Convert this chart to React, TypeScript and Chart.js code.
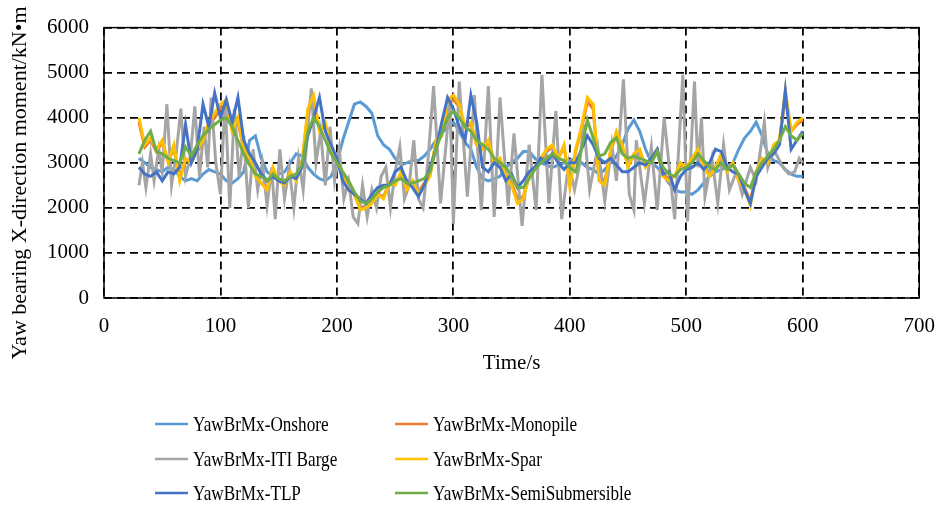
import React, { useEffect, useRef } from "react";
import { Chart, registerables } from "chart.js";
Chart.register(...registerables);

const seriesNames = [
  "YawBrMx-Onshore",
  "YawBrMx-Monopile",
  "YawBrMx-ITI Barge",
  "YawBrMx-Spar",
  "YawBrMx-TLP",
  "YawBrMx-SemiSubmersible",
];
const seriesColors = ["#5B9BD5", "#ED7D31", "#A5A5A5", "#FFC000", "#4472C4", "#70AD47"];

const xTicks = [0, 100, 200, 300, 400, 500, 600, 700];
const yTicks = [0, 1000, 2000, 3000, 4000, 5000, 6000];

// time (s), sampled every 5 s
const time5 = [
  30, 35, 40, 45, 50, 55, 60, 65, 70, 75, 80, 85, 90, 95, 100, 105, 110, 115, 120, 125,
  130, 135, 140, 145, 150, 155, 160, 165, 170, 175, 180, 185, 190, 195, 200, 205, 210, 215, 220, 225,
  230, 235, 240, 245, 250, 255, 260, 265, 270, 275, 280, 285, 290, 295, 300, 305, 310, 315, 320, 325,
  330, 335, 340, 345, 350, 355, 360, 365, 370, 375, 380, 385, 390, 395, 400, 405, 410, 415, 420, 425,
  430, 435, 440, 445, 450, 455, 460, 465, 470, 475, 480, 485, 490, 495, 500, 505, 510, 515, 520, 525,
  530, 535, 540, 545, 550, 555, 560, 565, 570, 575, 580, 585, 590, 595, 600,
];

const onshore = [
  3100, 3000, 2900, 2850, 2800, 2900, 2850, 2700, 2600, 2650, 2600, 2750, 2850, 2800, 2750, 2600, 2550, 2650, 2800, 3500,
  3600, 3100, 2800, 2700, 2750, 2800, 3000, 3200, 3150, 2900, 2750, 2650, 2600, 2700, 3000, 3500, 3900, 4300, 4350, 4250,
  4100, 3600, 3400, 3300, 3100, 2950, 3000, 3050, 3050, 3150, 3300, 3500, 3650, 3800, 3900, 3700, 3450, 3300, 2900, 2650,
  2600, 2650, 2700, 2900, 3000, 3100, 3250, 3250, 3100, 3000, 2950, 2900, 2950, 3000, 3050, 3100, 3000, 2900, 2850, 2750,
  2850, 3000, 3150, 3400, 3750, 3950, 3700, 3300, 3000, 2900, 2750, 2550, 2400, 2350, 2350, 2300, 2400, 2550, 2700, 2800,
  2850, 2900, 3000, 3300, 3550, 3700, 3900, 3600, 3200, 3050, 3000, 2850, 2750, 2700, 2700,
];

const monopile = [
  3900, 3350, 3500, 3250, 3450, 3050, 3300, 2700, 3050, 3050, 3250, 3450, 3850, 4000, 4200, 4300, 3750, 3900, 3300, 3050,
  2750, 2550, 2450, 2850, 2600, 2550, 2750, 2650, 3000, 4100, 4400, 3750, 3800, 3300, 3050, 2750, 2450, 2300, 2000, 2050,
  2150, 2300, 2250, 2550, 2550, 2750, 2450, 2600, 2350, 2550, 2750, 3450, 3600, 4300, 4400, 4250, 3800, 3850, 3400, 3300,
  3450, 3050, 3050, 2750, 2550, 2200, 2250, 2700, 2900, 3050, 3250, 3350, 3100, 3350, 2550, 3250, 3750, 4350, 4200, 2700,
  2600, 3250, 3650, 3350, 2950, 3150, 3250, 2950, 3050, 3250, 2750, 2650, 2700, 2950, 2900, 3050, 3250, 2950, 2750, 2900,
  3150, 2850, 3000, 2650, 2450, 2150, 2750, 3050, 3000, 3350, 3500, 4450, 3700, 3850, 3950,
];

const spar = [
  4000, 3400, 3550, 3300, 3500, 3000, 3400, 2600, 3100, 3000, 3300, 3500, 3900, 4100, 4300, 4400, 3700, 4000, 3300, 3100,
  2700, 2550, 2400, 2900, 2600, 2500, 2800, 2600, 3000, 4200, 4500, 3700, 3900, 3300, 3100, 2700, 2400, 2300, 1950, 2000,
  2100, 2300, 2200, 2550, 2500, 2800, 2400, 2600, 2300, 2500, 2700, 3500, 3600, 4400, 4500, 4300, 3800, 3900, 3400, 3300,
  3500, 3000, 3100, 2700, 2500, 2100, 2200, 2700, 2900, 3100, 3300, 3400, 3100, 3400, 2450, 3300, 3800, 4450, 4300, 2600,
  2500, 3300, 3700, 3400, 2900, 3200, 3300, 2900, 3100, 3300, 2700, 2600, 2700, 3000, 2900, 3100, 3300, 2900, 2700, 2900,
  3200, 2800, 3000, 2600, 2400, 2050, 2800, 3100, 3000, 3400, 3500, 4600, 3700, 3900, 4000,
];

const tlp = [
  2900, 2750, 2700, 2800, 2600, 2800, 2750, 2900, 3850, 3000, 3300, 4300, 3800, 4550, 4000, 4400, 3900, 4450, 3500, 3200,
  3000, 2750, 2600, 2700, 2600, 2550, 2700, 2650, 2900, 3600, 4000, 4450, 3700, 3400, 3100, 2600, 2400, 2300, 2200, 2100,
  2300, 2450, 2500, 2500, 2800, 2900, 2600, 2450, 2250, 2500, 2900, 3300, 3900, 4450, 4200, 3800, 3500, 4500, 3900, 2900,
  2800, 3000, 2900, 2600, 2750, 2450, 2600, 2800, 2900, 3100, 3000, 3200, 3000, 2850, 3000, 3000, 3300, 3600, 3400, 3100,
  3000, 3100, 2950, 2800, 2800, 2900, 3000, 2950, 3100, 3300, 2750, 2800, 2400, 2700, 2850, 2900, 3000, 2850, 3000, 3300,
  3250, 2900, 2800, 2750, 2400, 2100, 2700, 2900, 3100, 3200, 3400, 4600, 3300, 3500, 3700,
];

const semiSub = [
  3200, 3500, 3700, 3250, 3200, 3100, 3050, 3000, 3350, 3150, 3400, 3600, 3750, 3850, 3950, 4000, 3800, 3500, 3200, 2950,
  2750, 2700, 2600, 2750, 2650, 2600, 2700, 2750, 2950, 3700, 4000, 3800, 3500, 3200, 3000, 2800, 2600, 2350, 2150, 2100,
  2200, 2350, 2450, 2500, 2600, 2650, 2550, 2550, 2600, 2650, 2800, 3300, 3650, 4000, 4150, 4000, 3800, 3700, 3500, 3400,
  3300, 3100, 3000, 2900, 2700, 2450, 2450, 2650, 2850, 3000, 3100, 3200, 3100, 3050, 2900, 2800, 3300, 3950, 3550, 3150,
  3200, 3450, 3550, 3200, 3100, 3150, 3100, 3050, 3000, 3250, 2900, 2750, 2700, 2850, 2900, 3000, 3200, 3050, 2900, 2850,
  3000, 2850, 2950, 2750, 2550, 2450, 2800, 3000, 3150, 3300, 3500, 3800, 3600, 3500, 3650,
];

// ITI Barge oscillates faster: its own time stamps (s)
const bargeTime = [
  30, 33, 36, 40, 43, 47, 50, 54, 58, 62, 66, 70, 74, 78, 82, 86, 89, 92, 96, 100,
  104, 108, 112, 116, 120, 124, 128, 132, 136, 140, 144, 147, 151, 155, 159, 163, 167, 171, 175, 178,
  182, 186, 190, 194, 198, 202, 206, 210, 214, 218, 222, 226, 230, 234, 238, 242, 246, 250, 254, 258,
  262, 266, 270, 274, 278, 283, 289, 294, 297, 300, 305, 312, 318, 324, 330, 335, 340, 347, 352, 359,
  365, 371, 376, 382, 388, 393, 399, 404, 408, 412, 417, 424, 430, 436, 440, 446, 451, 455, 457, 464,
  470, 475, 481, 490, 497, 501, 507, 510, 513, 516, 522, 527, 532, 537, 543, 548, 555, 560, 567, 570,
  575, 583, 588, 593, 597, 600,
];
const bargeValues = [
  2500, 3000, 2450, 3200, 2600, 3300, 2800, 4300, 2500, 3200, 4200, 2700, 3100, 4250, 2700, 3800, 2900, 4450, 3000, 2300,
  4400, 2000, 4200, 2700, 3600, 2000, 3300, 2400, 3000, 2050, 2900, 1750, 3300, 2200, 2900, 2000, 3100, 2400, 3800, 4650,
  3000, 3700, 2500, 3800, 2600, 3300, 2200, 2600, 1800, 1650, 2500, 1800, 2400, 2000, 2700, 2900, 2000, 2800, 3350, 2200,
  2500, 3500, 2200, 2000, 3000, 4700, 2100, 3500, 4400, 1650, 4800, 2250, 4500, 1950, 4700, 1800, 4450, 2050, 3650, 1600,
  3400, 1950, 4950, 2100, 4150, 1750, 3000, 2400, 2900, 3850, 2400, 3350, 2150, 3400, 2600, 4850, 2300, 1950, 3500, 2100,
  3350, 1950, 4000, 1750, 4950, 1700, 4800, 2900, 4000, 2250, 3100, 2100, 3400, 2400, 2800, 2300, 2900, 2600, 3900, 2900,
  3300, 2900, 2750, 2800, 3100, 3000,
];

const FONT = "'Liberation Serif', 'Times New Roman', serif";

const decorPlugin = {
  id: "decor",
  afterDatasetsDraw(chart: any) {
    const { ctx, chartArea } = chart;
    ctx.save();
    ctx.strokeStyle = "#000";
    ctx.lineWidth = 1.5;
    ctx.setLineDash([]);
    ctx.strokeRect(chartArea.left, chartArea.top, chartArea.right - chartArea.left, chartArea.bottom - chartArea.top);
    ctx.restore();
  },
  afterDraw(chart: any) {
    const { ctx, chartArea } = chart;
    ctx.save();
    ctx.fillStyle = "#000";
    // x title
    ctx.font = `21px ${FONT}`;
    ctx.textAlign = "center";
    ctx.textBaseline = "middle";
    ctx.fillText("Time/s", (chartArea.left + chartArea.right) / 2, 363);
    // y title
    ctx.save();
    ctx.translate(20, 183);
    ctx.rotate(-Math.PI / 2);
    ctx.font = `22px ${FONT}`;
    ctx.fillText("Yaw bearing X-direction moment/kN\u2022m", 0, 0);
    ctx.restore();
    // legend (2 columns, 3 rows)
    const colX = [155, 395];
    const rowY = [424, 459, 493];
    chart.data.datasets.forEach((ds: any, i: number) => {
      const col = i % 2;
      const row = Math.floor(i / 2);
      const x = colX[col];
      const y = rowY[row];
      ctx.strokeStyle = ds.borderColor;
      ctx.lineWidth = 2.5;
      ctx.beginPath();
      ctx.moveTo(x, y);
      ctx.lineTo(x + 33, y);
      ctx.stroke();
      ctx.save();
      ctx.translate(x + 38, y);
      ctx.scale(0.78, 1);
      ctx.font = `22px ${FONT}`;
      ctx.textAlign = "left";
      ctx.textBaseline = "middle";
      ctx.fillStyle = "#000";
      ctx.fillText(ds.label, 0, 1);
      ctx.restore();
    });
    ctx.restore();
  },
};

export default function App() {
  const ref = useRef<HTMLCanvasElement | null>(null);
  useEffect(() => {
    if (!ref.current) return;
    const mk = (t: number[], v: number[]) => t.map((x, i) => ({ x, y: v[i] }));
    const dataSets = [
      mk(time5, onshore),
      mk(time5, monopile),
      mk(bargeTime, bargeValues),
      mk(time5, spar),
      mk(time5, tlp),
      mk(time5, semiSub),
    ];
    const chart = new Chart(ref.current, {
      type: "line",
      data: {
        datasets: seriesNames.map((name, i) => ({
          label: name,
          data: dataSets[i],
          borderColor: seriesColors[i],
          backgroundColor: seriesColors[i],
          borderWidth: 3,
          pointRadius: 0,
          tension: 0,
          order: 6 - i,
        })),
      },
      options: {
        animation: false,
        responsive: false,
        layout: { padding: { left: 0, top: 22, right: 23, bottom: 150 } },
        plugins: { legend: { display: false }, tooltip: { enabled: false } },
        scales: {
          x: {
            type: "linear",
            min: 0,
            max: 700,
            afterBuildTicks: (s: any) => {
              s.ticks = xTicks.map((v) => ({ value: v }));
            },
            afterFit: (s: any) => {
              s.height = 60;
            },
            ticks: {
              color: "#000",
              padding: 16,
              font: { family: FONT, size: 21 },
              callback: (v: any) => String(v),
            },
            grid: { color: "#000", lineWidth: 1.8, drawTicks: false },
            border: { display: false, dash: [8, 5] },
          },
          y: {
            min: 0,
            max: 6000,
            afterBuildTicks: (s: any) => {
              s.ticks = yTicks.map((v) => ({ value: v }));
            },
            afterFit: (s: any) => {
              s.width = 104;
            },
            ticks: {
              color: "#000",
              padding: 15,
              font: { family: FONT, size: 21 },
              callback: (v: any) => String(v),
            },
            grid: { color: "#000", lineWidth: 1.8, drawTicks: false },
            border: { display: false, dash: [8, 5] },
          },
        },
      },
      plugins: [decorPlugin],
    });
    return () => chart.destroy();
  }, []);
  return (
    <div style={{ position: "fixed", left: 0, top: 0, width: 951, height: 508, background: "#fff" }}>
      <canvas ref={ref} width={951} height={508} style={{ display: "block" }} />
    </div>
  );
}
